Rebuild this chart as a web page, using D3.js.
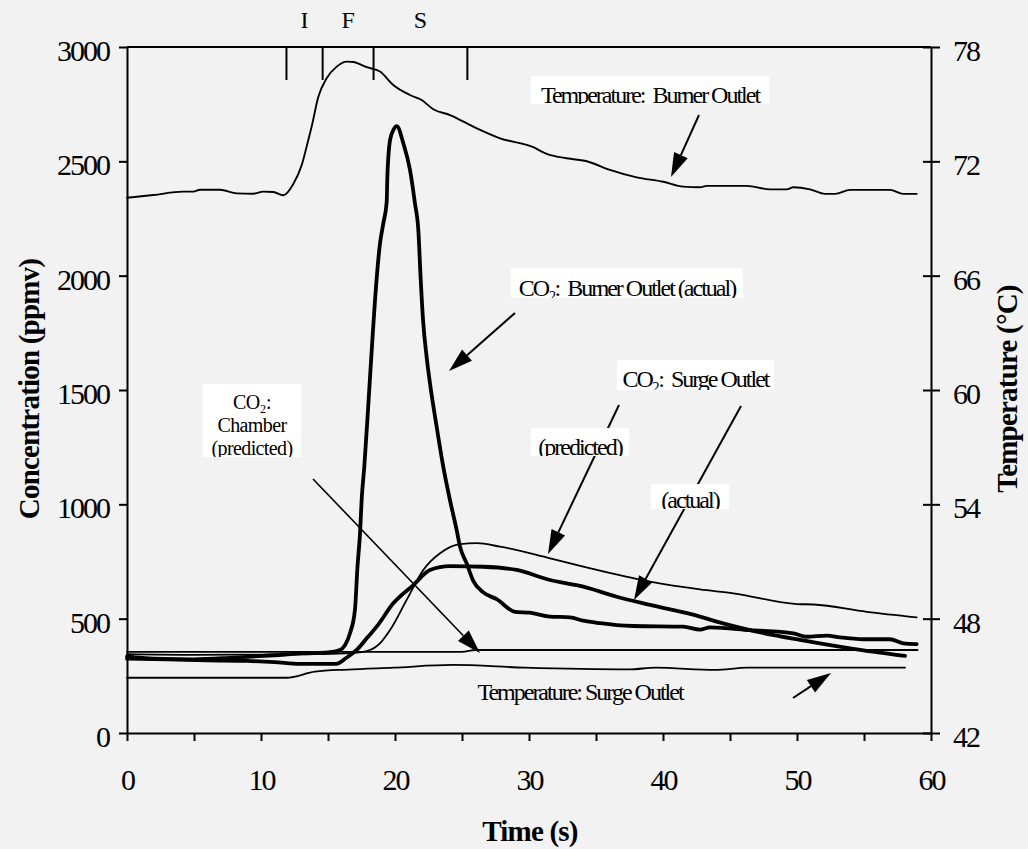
<!DOCTYPE html>
<html>
<head>
<meta charset="utf-8">
<script src="https://cdn.jsdelivr.net/npm/d3@7"></script>
<style>
  html, body { margin: 0; padding: 0; background: #f2f2f2; }
  svg { display: block; font-family: "Liberation Serif", "Times New Roman", serif; }
  text { white-space: pre; }
</style>
</head>
<body>
<svg id="chart" width="1028" height="849"></svg>
<script>
// ---- Temperature at the burner outlet (°C, right axis) ----
const burnerTempTime = [0, 1.96, 4.19, 4.95, 5.45, 6.94, 8.19, 9.43, 10.17, 10.92, 11.66, 12.41, 13.04, 13.53, 13.78,
  14.28, 14.9, 15.65, 16.4, 16.89, 17.89, 18.88, 19.87, 21.12, 21.99, 22.86, 24.1, 25.84, 27.84, 30.32, 31.32,
  32.81, 34.43, 36.04, 38.04, 40.02, 41.51, 42.76, 43.26, 46.25, 47.99, 49.23, 49.72, 50.97, 52.09, 52.84,
  53.96, 56.94, 57.93, 58.93];
const burnerTempValue = [70.09, 70.23, 70.41, 70.41, 70.51, 70.51, 70.32, 70.3, 70.41, 70.39, 70.22, 70.81, 71.81, 73.12, 73.82,
  75.39, 76.36, 76.97, 77.23, 77.21, 76.94, 76.71, 76.01, 75.48, 75.22, 74.73, 74.43, 73.82, 73.21, 72.74, 72.39,
  72.16, 71.98, 71.55, 71.16, 70.93, 70.67, 70.64, 70.71, 70.71, 70.53, 70.53, 70.64, 70.53, 70.29, 70.29,
  70.5, 70.5, 70.29, 70.29];

// ---- Temperature at the surge outlet (°C, right axis) ----
const surgeTempTime = [0, 11.9, 14.03, 16.5, 19.86, 24.29, 29.69, 37.5, 39.45, 43.87, 46.3, 58.06];
const surgeTempValue = [44.9, 44.9, 45.22, 45.33, 45.43, 45.57, 45.43, 45.34, 45.43, 45.31, 45.43, 45.43];

// ---- CO2 at the burner outlet, measured (ppmv) ----
const co2BurnerTime = [0, 2, 5, 8, 11, 13, 15, 15.9, 16.64, 17.01, 17.2, 17.39, 17.51, 17.71, 18.03, 18.29, 18.51,
  18.88, 19.13, 19.38, 19.43, 19.63, 19.9, 20.13, 20.62, 21.12, 21.49, 21.74, 21.92, 22.1, 22.35, 22.61, 23.11,
  23.6, 24.1, 24.6, 24.85, 25.35, 25.84, 26.59, 27.59, 28.96, 30.07, 31.57, 33.06, 34.05, 35.3, 36.54, 37.78,
  41.51, 42.76, 43.51, 46.49, 49.72, 50.72, 52.22, 53.21, 54.95, 56.94, 57.93, 58.93];
const co2BurnerValue = [335, 325, 322, 330, 340, 348, 352, 363, 436, 538, 727, 873, 1019, 1165, 1456, 1700, 1894,
  2141, 2229, 2323, 2433, 2593, 2640, 2654, 2579, 2462, 2316, 2200, 1981, 1800, 1650, 1529, 1339,
  1165, 1019, 888, 815, 742, 665, 615, 585, 530, 526, 509, 506, 491, 480, 472, 468,
  465, 452, 462, 450, 436, 421, 426, 418, 410, 410, 392, 389];

// ---- CO2 at the surge outlet, measured (ppmv) ----
const co2SurgeTime = [0, 3, 6, 9, 11, 12.9, 15.6, 16.4, 17.14, 17.9, 18.63, 19.87, 21.37, 22.61, 24.1, 26.59, 29.08,
  31.57, 34.05, 36.54, 39.03, 42.76, 44.01, 46.49, 50.22, 53.96, 58.06];
const co2SurgeValue = [325, 322, 318, 315, 310, 302, 302, 330, 363, 415, 465, 567, 647, 713, 730, 727, 713,
  669, 640, 596, 560, 509, 487, 450, 407, 370, 337];

// ---- CO2 at the surge outlet, model (ppmv) ----
const co2SurgePredTime = [0, 5, 10, 15, 17, 18.13, 19, 19.63, 20.87, 22.11, 23.36, 24.85, 26.1, 27.84, 31.57, 35.3,
  39.03, 42.76, 45.25, 49.98, 51.22, 55.2, 58.93];
const co2SurgePredValue = [345, 342, 343, 346, 350, 363, 400, 450, 582, 713, 786, 826, 830, 815, 764, 710,
  662, 628, 611, 564, 562, 530, 506];

// ---- CO2 in the chamber, model (ppmv) ----
const co2ChamberTime = [0, 25, 26, 59];
const co2ChamberValue = [355, 355, 363, 363];

// ---- Axis ticks ----
const timeTicks = [0, 5, 10, 15, 20, 25, 30, 35, 40, 45, 50, 55, 60];
const timeLabels = [0, 10, 20, 30, 40, 50, 60];
const concTicks = [0, 500, 1000, 1500, 2000, 2500, 3000];
const tempTicks = [42, 48, 54, 60, 66, 72, 78];

// ---- Combustion phases along the top edge ----
const phaseBounds = [11.9, 14.6, 18.4, 25.4];
const phaseNames = ["I", "F", "S"];

const svg = d3.select("#chart");
const W = 1028, H = 849;
svg.append("rect").attr("width", W).attr("height", H).attr("fill", "#f2f2f2");

const plot = { left: 127, right: 931, top: 47, bottom: 733 };
const x = d3.scaleLinear().domain([0, 60]).range([plot.left, plot.right]);
const yC = d3.scaleLinear().domain([0, 3000]).range([plot.bottom, plot.top]);
const yT = d3.scaleLinear().domain([42, 78]).range([plot.bottom, plot.top]);

const tickFont = { size: "30px", spacing: "-2px" };

// ---- Left axis (concentration) ----
const gLeft = svg.append("g").attr("transform", `translate(${plot.left},0)`)
  .call(d3.axisLeft(yC).tickValues(concTicks).tickFormat(d3.format("d"))
    .tickSize(8).tickSizeOuter(0).tickPadding(10));
gLeft.select(".domain").attr("stroke", "#000").attr("stroke-width", 2);
gLeft.selectAll(".tick line").attr("stroke", "#000").attr("stroke-width", 2);
gLeft.selectAll(".tick text").attr("font-family", "Liberation Serif").attr("font-size", tickFont.size)
  .attr("letter-spacing", tickFont.spacing).attr("dy", "0.45em").attr("fill", "#000");

// ---- Bottom axis (time) ----
const gBottom = svg.append("g").attr("transform", `translate(0,${plot.bottom})`)
  .call(d3.axisBottom(x).tickValues(timeTicks).tickSize(8).tickSizeOuter(0)
    .tickFormat(d => timeLabels.includes(d) ? d : ""));
gBottom.select(".domain").attr("stroke", "#000").attr("stroke-width", 2);
gBottom.selectAll(".tick line").attr("stroke", "#000").attr("stroke-width", 2);
gBottom.selectAll(".tick text").attr("font-family", "Liberation Serif").attr("font-size", tickFont.size)
  .attr("letter-spacing", tickFont.spacing).attr("y", 57).attr("dy", 0).attr("fill", "#000");

// ---- Right axis (temperature) ----
const gRight = svg.append("g").attr("transform", `translate(${plot.right},0)`)
  .call(d3.axisRight(yT).tickValues(tempTicks).tickSize(9).tickSizeOuter(0).tickPadding(13));
gRight.select(".domain").attr("stroke", "#000").attr("stroke-width", 2);
gRight.selectAll(".tick line").attr("stroke", "#000").attr("stroke-width", 2).attr("x1", -8);
gRight.selectAll(".tick text").attr("font-family", "Liberation Serif").attr("font-size", tickFont.size)
  .attr("letter-spacing", tickFont.spacing).attr("dy", "0.45em").attr("fill", "#000");

// ---- Top edge with phase markers ----
svg.append("line").attr("x1", plot.left).attr("x2", plot.right)
  .attr("y1", plot.top).attr("y2", plot.top).attr("stroke", "#000").attr("stroke-width", 2);
svg.selectAll(".phase-tick").data(phaseBounds).join("line")
  .attr("class", "phase-tick")
  .attr("x1", d => x(d)).attr("x2", d => x(d))
  .attr("y1", plot.top - 1).attr("y2", plot.top + 33)
  .attr("stroke", "#000").attr("stroke-width", 2);
svg.selectAll(".phase-label").data(phaseNames).join("text")
  .attr("class", "phase-label")
  .attr("x", (d, i) => x((phaseBounds[i] + phaseBounds[i + 1]) / 2))
  .attr("y", 28).attr("text-anchor", "middle")
  .attr("font-size", "24px").text(d => d);

// ---- Axis titles ----
svg.append("text").attr("transform", "translate(39,389) rotate(-90)")
  .attr("text-anchor", "middle").attr("font-size", "29px").attr("font-weight", "bold")
  .attr("letter-spacing", "-0.8px").text("Concentration (ppmv)");
svg.append("text").attr("transform", "translate(1017,389) rotate(-90)")
  .attr("text-anchor", "middle").attr("font-size", "29px").attr("font-weight", "bold")
  .attr("letter-spacing", "-0.8px").text("Temperature (°C)");
svg.append("text").attr("x", 530).attr("y", 841)
  .attr("text-anchor", "middle").attr("font-size", "29px").attr("font-weight", "bold")
  .attr("letter-spacing", "-0.8px").text("Time (s)");

// ---- Series ----
function series(times, values, yScale, width) {
  const pts = times.map((t, i) => [t, values[i]]);
  const line = d3.line().x(d => x(d[0])).y(d => yScale(d[1])).curve(d3.curveMonotoneX);
  svg.append("path").datum(pts).attr("d", line)
    .attr("fill", "none").attr("stroke", "#000").attr("stroke-width", width)
    .attr("stroke-linejoin", "round").attr("stroke-linecap", "round");
}
series(surgeTempTime, surgeTempValue, yT, 1.8);
series(co2ChamberTime, co2ChamberValue, yC, 1.8);
series(co2SurgePredTime, co2SurgePredValue, yC, 1.8);
series(burnerTempTime, burnerTempValue, yT, 1.9);
series(co2SurgeTime, co2SurgeValue, yC, 3.8);
series(co2BurnerTime, co2BurnerValue, yC, 3.8);

// ---- Annotation arrows ----
function arrow(x1, y1, x2, y2, width) {
  const ang = Math.atan2(y2 - y1, x2 - x1);
  const len = 24, half = 7.5;
  const bx = x2 - len * Math.cos(ang), by = y2 - len * Math.sin(ang);
  svg.append("line").attr("x1", x1).attr("y1", y1).attr("x2", bx).attr("y2", by)
    .attr("stroke", "#000").attr("stroke-width", width);
  const px = -Math.sin(ang), py = Math.cos(ang);
  svg.append("polygon")
    .attr("points", [[x2, y2], [bx + px * half, by + py * half], [bx - px * half, by - py * half]].join(" "))
    .attr("fill", "#000");
}
arrow(699, 115, 671, 177, 2);
arrow(515, 313, 449, 371, 2);
arrow(619, 405, 548, 554, 2);
arrow(741, 406, 634, 600, 2);
arrow(313, 479, 480, 653, 1.6);
arrow(793, 698, 831, 673, 2);

// ---- Annotation labels in white boxes (text cut off at the box edge) ----
let clipId = 0;
function labelBox(x0, y0, x1, y1, lines, size = 24, spacing = -2) {
  const id = "lbl-clip-" + (clipId++);
  svg.append("clipPath").attr("id", id)
    .append("rect").attr("x", x0).attr("y", y0).attr("width", x1 - x0).attr("height", y1 - y0);
  svg.append("rect").attr("x", x0).attr("y", y0).attr("width", x1 - x0).attr("height", y1 - y0)
    .attr("fill", "#fff");
  const g = svg.append("g").attr("clip-path", `url(#${id})`);
  lines.forEach(l => {
    g.append("text").attr("x", (x0 + x1) / 2).attr("y", l.y)
      .attr("text-anchor", "middle").attr("font-size", size + "px").attr("letter-spacing", spacing + "px")
      .text(l.text);
  });
}
labelBox(531, 76, 769, 104, [{ y: 103, text: "Temperature:  Burner Outlet" }]);
labelBox(511, 268, 743, 298, [{ y: 296, text: "CO₂:  Burner Outlet (actual)" }]);
labelBox(617, 360, 774, 390, [{ y: 387, text: "CO₂:  Surge Outlet" }]);
labelBox(531, 428, 629, 456, [{ y: 455, text: "(predicted)" }]);
labelBox(651, 484, 729, 509, [{ y: 508, text: "(actual)" }]);
labelBox(203, 384, 301, 457, [
  { y: 409, text: "CO₂:" },
  { y: 432, text: "Chamber" },
  { y: 455, text: "(predicted)" }
], 20, -0.6);

svg.append("text").attr("x", 580).attr("y", 700).attr("text-anchor", "middle")
  .attr("font-size", "24px").attr("letter-spacing", "-2px").text("Temperature: Surge Outlet");
</script>
</body>
</html>
